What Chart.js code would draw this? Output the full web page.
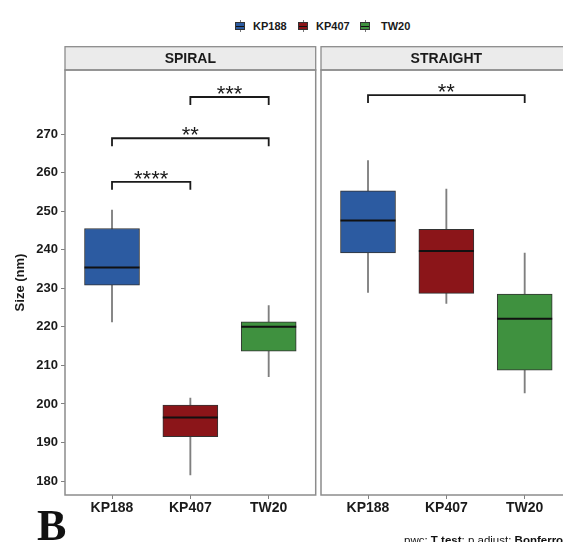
<!DOCTYPE html>
<html>
<head>
<meta charset="utf-8">
<script src="https://cdn.jsdelivr.net/npm/chart.js@4.4.0/dist/chart.umd.min.js"></script>
<style>
  html, body { margin: 0; padding: 0; background: #fff; }
  body { width: 563px; height: 542px; overflow: hidden; position: relative; font-family: "Liberation Sans", Arial, sans-serif; }
  canvas { position: absolute; top: 0; }
  #spiral { left: 0; }
  #straight { left: 318px; }
  .leg-box { position: absolute; top: 22px; width: 8px; height: 6px; border: 1px solid #333; }
  .leg-box::before { content: ""; position: absolute; left: 0; right: 0; top: 2.5px; height: 1px; background: #111; }
  .leg-wh { position: absolute; width: 1px; background: #777; }
  .leg-txt { position: absolute; top: 19px; font: bold 11px "Liberation Sans", Arial, sans-serif; color: #1a1a1a; line-height: 14px; }
  #letter { position: absolute; left: 37px; top: 504px; font: bold 44px "Liberation Serif", serif; line-height: 44px; color: #111; }
  #note { position: absolute; left: 404px; top: 535px; font: 11.5px "Liberation Sans", Arial, sans-serif; line-height: 11px; color: #111; white-space: nowrap; }
</style>
</head>
<body>
<div id="legend"></div>
<canvas id="spiral" width="318" height="542"></canvas>
<canvas id="straight" width="260" height="542"></canvas>
<div id="letter">B</div>
<div id="note">pwc: <b>T test</b>; p.adjust: <b>Bonferroni</b></div>
<script>
const groups = ['KP188', 'KP407', 'TW20'];
const colors = ['#2c5ba1', '#8b1519', '#3f913f'];
const yTicks = [180, 190, 200, 210, 220, 230, 240, 250, 260, 270];

// SPIRAL panel
const spiralMin = [221.3, 181.6, 207.1];
const spiralQ1 = [230.8, 191.5, 213.7];
const spiralMed = [235.4, 196.5, 220.0];
const spiralQ3 = [245.5, 199.7, 221.3];
const spiralMax = [250.3, 201.5, 225.5];
const spiralBrFrom = [0, 0, 1];
const spiralBrTo = [1, 2, 2];
const spiralBrY = [257.6, 268.9, 279.6];
const spiralBrLabel = ['****', '**', '***'];

// STRAIGHT panel
const straightMin = [228.9, 226.1, 202.9];
const straightQ1 = [239.2, 228.7, 208.8];
const straightMed = [247.6, 239.7, 222.1];
const straightQ3 = [255.3, 245.3, 228.5];
const straightMax = [263.1, 255.7, 239.1];
const straightBrFrom = [0];
const straightBrTo = [2];
const straightBrY = [280.1];
const straightBrLabel = ['**'];

// legend
const legendIconX = [235, 298, 360];
const legendTextX = [253, 316, 381];
let leg = document.getElementById('legend');
groups.forEach((g, i) => {
    leg.innerHTML +=
        '<div class="leg-wh" style="left:' + (legendIconX[i] + 5) + 'px;top:20px;height:2px"></div>' +
        '<div class="leg-wh" style="left:' + (legendIconX[i] + 5) + 'px;top:30px;height:2px"></div>' +
        '<div class="leg-box" style="left:' + legendIconX[i] + 'px;background:' + colors[i] + '"></div>' +
        '<div class="leg-txt" style="left:' + legendTextX[i] + 'px">' + g + '</div>';
});

const panelPlugin = {
    id: 'panel',
    beforeDraw(chart, args, opts) {
        const ctx = chart.ctx, a = chart.chartArea;
        const h = 23.3;
        ctx.save();
        ctx.fillStyle = '#ebebeb';
        ctx.fillRect(a.left, a.top - h, a.right - a.left, h);
        ctx.strokeStyle = '#8c8c8c';
        ctx.lineWidth = 1.3;
        ctx.strokeRect(a.left, a.top - h, a.right - a.left, h);
        ctx.fillStyle = '#1a1a1a';
        ctx.font = 'bold 14px "Liberation Sans", Arial';
        ctx.textAlign = 'center';
        ctx.textBaseline = 'middle';
        ctx.fillText(opts.title, (a.left + a.right) / 2, a.top - h / 2 + 0.5);
        ctx.restore();
    },
    afterDatasetsDraw(chart, args, opts) {
        const ctx = chart.ctx, a = chart.chartArea;
        const x = chart.scales.x, y = chart.scales.y;
        const boxes = chart.getDatasetMeta(1).data;
        ctx.save();
        // medians
        ctx.strokeStyle = '#111';
        ctx.lineWidth = 2;
        opts.medians.forEach((m, i) => {
            const cx = x.getPixelForValue(i), cy = y.getPixelForValue(m);
            const w = boxes[i].width / 2;
            ctx.beginPath();
            ctx.moveTo(cx - w, cy);
            ctx.lineTo(cx + w, cy);
            ctx.stroke();
        });
        // significance brackets
        ctx.strokeStyle = '#1a1a1a';
        ctx.lineWidth = 1.8;
        ctx.fillStyle = '#1a1a1a';
        ctx.font = '22px "Liberation Sans", Arial';
        ctx.textAlign = 'center';
        ctx.textBaseline = 'alphabetic';
        opts.from.forEach((f, i) => {
            const x1 = x.getPixelForValue(f), x2 = x.getPixelForValue(opts.to[i]);
            const by = y.getPixelForValue(opts.y[i]);
            ctx.beginPath();
            ctx.moveTo(x1, by + 8);
            ctx.lineTo(x1, by);
            ctx.lineTo(x2, by);
            ctx.lineTo(x2, by + 8);
            ctx.stroke();
            ctx.fillText(opts.labels[i], (x1 + x2) / 2, by + 4);
        });
        // panel border
        ctx.strokeStyle = '#8c8c8c';
        ctx.lineWidth = 1.5;
        ctx.strokeRect(a.left, a.top, a.right - a.left, a.bottom - a.top);
        ctx.restore();
    }
};

function drawPanel(id, title, mins, q1s, meds, q3s, maxs, brFrom, brTo, brY, brLabel, showY, padding) {
    let ctx = document.getElementById(id).getContext('2d');
    return new Chart(ctx, {
        type: 'bar',
        data: {
            datasets: [{
                data: groups.map((g, i) => ({x: i, y: [mins[i], maxs[i]]})),
                backgroundColor: '#7f7f7f',
                maxBarThickness: 1.2,
                barPercentage: 1,
                categoryPercentage: 1,
                grouped: false,
                order: 2
            }, {
                data: groups.map((g, i) => ({x: i, y: [q1s[i], q3s[i]]})),
                backgroundColor: colors,
                borderColor: '#333',
                borderWidth: 1,
                borderSkipped: false,
                maxBarThickness: 55,
                barPercentage: 1,
                categoryPercentage: 1,
                grouped: false,
                order: 1
            }]
        },
        options: {
            responsive: false,
            animation: false,
            devicePixelRatio: 1,
            layout: {padding: padding},
            plugins: {
                legend: {display: false},
                tooltip: {enabled: false},
                panel: {title: title, medians: meds, from: brFrom, to: brTo, y: brY, labels: brLabel}
            },
            scales: {
                x: {
                    type: 'linear',
                    min: -0.6,
                    max: 2.6,
                    offset: false,
                    afterBuildTicks: s => { s.ticks = groups.map((g, i) => ({value: i})); },
                    afterFit: s => { s.height = 47; },
                    ticks: {
                        callback: v => groups[v],
                        font: {family: '"Liberation Sans", Arial', size: 14, weight: 'bold'},
                        color: '#1a1a1a',
                        padding: 1,
                        maxRotation: 0,
                        autoSkip: false
                    },
                    grid: {offset: false, drawOnChartArea: false, tickLength: 4, color: '#808080'},
                    border: {display: false}
                },
                y: {
                    display: showY,
                    min: 176.4,
                    max: 286.6,
                    afterBuildTicks: s => { s.ticks = yTicks.map(v => ({value: v})); },
                    afterFit: s => { if (showY) s.width = 65; },
                    ticks: {
                        font: {family: '"Liberation Sans", Arial', size: 13, weight: 'bold'},
                        color: '#1a1a1a',
                        padding: 3
                    },
                    grid: {drawOnChartArea: false, tickLength: 4, color: '#808080'},
                    border: {display: false},
                    title: {
                        display: true,
                        text: 'Size (nm)',
                        font: {family: '"Liberation Sans", Arial', size: 13, weight: 'bold'},
                        color: '#1a1a1a',
                        padding: {top: 13, bottom: 0}
                    }
                }
            }
        },
        plugins: [panelPlugin]
    });
}

drawPanel('spiral', 'SPIRAL', spiralMin, spiralQ1, spiralMed, spiralQ3, spiralMax,
    spiralBrFrom, spiralBrTo, spiralBrY, spiralBrLabel, true, {top: 70, left: 0, right: 2.3, bottom: 0});
drawPanel('straight', 'STRAIGHT', straightMin, straightQ1, straightMed, straightQ3, straightMax,
    straightBrFrom, straightBrTo, straightBrY, straightBrLabel, false, {top: 70, left: 3, right: 6.3, bottom: 0});
</script>
</body>
</html>
